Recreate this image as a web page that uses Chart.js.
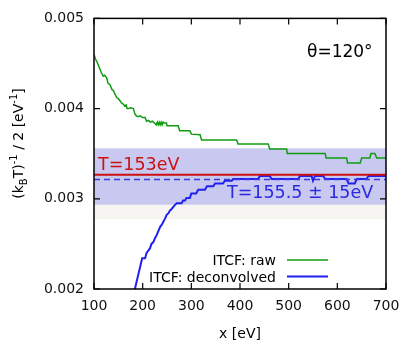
<!DOCTYPE html>
<html lang="en">
<head>
    <meta charset="UTF-8">
    <title>ITCF temperature</title>
    <script src="https://cdn.jsdelivr.net/npm/chart.js"></script>
    <style>
        body { margin: 0; background: #fff; }
        canvas { display: block; }
    </style>
</head>
<body>
    <canvas id="itcfChart" width="414" height="343"></canvas>
    <script>
        // x ticks and y ticks
        const xTicks = [100, 200, 300, 400, 500, 600, 700];
        const yTicks = [0.002, 0.003, 0.004, 0.005];

        // ITCF raw curve (green)
        const rawX = [100, 103, 106, 109, 112, 115, 119, 122, 126, 129, 132, 134, 137, 140, 143, 147, 150, 153, 157, 160,
                      163, 166, 168, 171, 175, 181, 184, 187, 191, 195, 200, 205, 208, 212, 216, 220, 224, 228, 230,
                      232, 234, 236, 238, 240, 242, 244, 249, 250, 273, 276, 297, 300, 318, 321, 393, 396, 458, 461, 496,
                      497, 575, 577, 619, 621, 647, 650, 667, 669, 677, 681, 700];
        const rawY = [0.00460, 0.00455, 0.00452, 0.00448, 0.00444, 0.00440, 0.00436, 0.00437, 0.00434, 0.00428,
                      0.00427, 0.00425, 0.00421, 0.00420, 0.00416, 0.00412, 0.00411, 0.00409, 0.00406, 0.00405,
                      0.00403, 0.00404, 0.00400, 0.00400, 0.00401, 0.00400, 0.00394, 0.00392, 0.00391, 0.00392,
                      0.00390, 0.00390, 0.00386, 0.00387, 0.00385, 0.00386, 0.00384, 0.00382, 0.00385,
                      0.00382, 0.00385, 0.00382, 0.00385, 0.00382, 0.00385, 0.00384, 0.00384, 0.00381, 0.00381,
                      0.003754, 0.003754, 0.003717, 0.00371, 0.003651, 0.003651, 0.003607, 0.003607, 0.003552, 0.003552,
                      0.003503, 0.003503, 0.003453, 0.003453, 0.003397, 0.003397, 0.003453, 0.003453, 0.003503, 0.003503,
                      0.003453, 0.003453];

        // ITCF deconvolved curve (blue)
        const decX = [184, 199, 205, 208, 215, 218, 222, 225, 229, 232, 236, 239, 242, 246, 249, 253, 256, 260, 263, 266,
                      270, 280, 283, 287, 290, 297, 300, 310, 314, 328, 332, 345, 349, 365, 369, 383, 386, 437, 441, 461,
                      465, 520, 523, 547, 550, 554, 571, 575, 619, 623, 636, 640, 660, 664, 700];
        const decY = [0.00200, 0.00234, 0.00234, 0.00240, 0.00245, 0.00250, 0.00252, 0.00256, 0.00260, 0.00264,
                      0.00269, 0.00271, 0.00274, 0.00278, 0.00282, 0.00284, 0.00287, 0.00289, 0.00291, 0.00293,
                      0.00295, 0.00295, 0.00298, 0.00298, 0.00301, 0.00301, 0.00306, 0.00306, 0.00310, 0.00310,
                      0.00314, 0.00314, 0.00317, 0.00317, 0.00320, 0.00320, 0.00322, 0.00322, 0.003254, 0.003254,
                      0.00322, 0.00322, 0.003254, 0.003254, 0.00320, 0.003254, 0.003254, 0.00322, 0.00322, 0.00317,
                      0.00317, 0.00322, 0.00322, 0.003254, 0.003254];

        // reference temperature and fitted temperature (as 1/(2T))
        const refLevel = 0.003268;   // T=153eV
        const fitLevel = 0.003215;   // T=155.5eV
        const fitBand = [0.002935, 0.003559];   // +- 15eV
        const refBand = [0.002773, 0.003559];

        const toPoints = (xs, ys) => xs.map((x, i) => ({ x: x, y: ys[i] }));
        const flat = (v) => [{ x: 100, y: v }, { x: 700, y: v }];

        const FONT = '"DejaVu Sans", sans-serif';

        // shaded bands behind the curves
        const bandPlugin = {
            id: 'bands',
            beforeDatasetsDraw(chart) {
                const { ctx, chartArea: a, scales: { y } } = chart;
                ctx.save();
                ctx.fillStyle = '#f7f5f2';
                let t = y.getPixelForValue(refBand[1]), b = y.getPixelForValue(refBand[0]);
                ctx.fillRect(a.left, t, a.right - a.left, b - t);
                ctx.fillStyle = '#c8c8f0';
                t = y.getPixelForValue(fitBand[1]); b = y.getPixelForValue(fitBand[0]);
                ctx.fillRect(a.left, t, a.right - a.left, b - t);
                ctx.restore();
            }
        };

        // frame, inward ticks, labels, legend, axis titles
        const framePlugin = {
            id: 'frame',
            afterDraw(chart) {
                const { ctx, chartArea: a, scales: { x, y } } = chart;
                ctx.save();
                ctx.strokeStyle = '#000';
                ctx.lineWidth = 1.5;
                ctx.strokeRect(a.left, a.top, a.right - a.left, a.bottom - a.top);
                ctx.lineWidth = 1.2;
                ctx.beginPath();
                xTicks.forEach(v => {
                    const px = x.getPixelForValue(v);
                    ctx.moveTo(px, a.bottom); ctx.lineTo(px, a.bottom - 6);
                    ctx.moveTo(px, a.top); ctx.lineTo(px, a.top + 6);
                });
                yTicks.forEach(v => {
                    const py = y.getPixelForValue(v);
                    ctx.moveTo(a.left, py); ctx.lineTo(a.left + 6, py);
                    ctx.moveTo(a.right, py); ctx.lineTo(a.right - 6, py);
                });
                ctx.stroke();

                // annotations
                ctx.textAlign = 'left';
                ctx.textBaseline = 'alphabetic';
                ctx.font = '17px ' + FONT;
                ctx.fillStyle = '#000';
                ctx.fillText('θ=120°', 307, 56.5);
                ctx.font = '17.5px ' + FONT;
                ctx.fillStyle = '#cc1111';
                ctx.fillText('T=153eV', 98, 170);
                ctx.fillStyle = '#2a2ae0';
                ctx.fillText('T=155.5 ± 15eV', 227, 198);

                // legend
                ctx.font = '14px ' + FONT;
                ctx.fillStyle = '#000';
                ctx.textAlign = 'right';
                ctx.fillText('ITCF: raw', 276, 265);
                ctx.fillText('ITCF: deconvolved', 276, 281.5);
                ctx.lineWidth = 1.5;
                ctx.strokeStyle = '#109c10';
                ctx.beginPath(); ctx.moveTo(287, 260); ctx.lineTo(328, 260); ctx.stroke();
                ctx.lineWidth = 2;
                ctx.strokeStyle = '#2020f0';
                ctx.beginPath(); ctx.moveTo(287, 276.5); ctx.lineTo(328, 276.5); ctx.stroke();

                // x title
                ctx.textAlign = 'center';
                ctx.fillText('x [eV]', (a.left + a.right) / 2, 338);

                // y title with sub/superscripts
                const runs = [['(k', 0], ['B', 1], ['T)', 0], ['-1', -1], [' / 2 [eV', 0], ['-1', -1], [']', 0]];
                const fontFor = k => (k === 0 ? '14px ' : '10px ') + FONT;
                let total = 0;
                runs.forEach(r => { ctx.font = fontFor(r[1]); total += ctx.measureText(r[0]).width; });
                ctx.translate(23, 143.5);
                ctx.rotate(-Math.PI / 2);
                ctx.textAlign = 'left';
                let cx = -total / 2;
                runs.forEach(r => {
                    ctx.font = fontFor(r[1]);
                    const dy = r[1] === 1 ? 3.5 : (r[1] === -1 ? -6 : 0);
                    ctx.fillText(r[0], cx, dy);
                    cx += ctx.measureText(r[0]).width;
                });
                ctx.restore();
            }
        };

        const config = {
            type: 'scatter',
            data: {
                datasets: [
                    {
                        label: 'T=153eV',
                        data: flat(refLevel),
                        showLine: true,
                        borderColor: '#cc1111',
                        borderWidth: 2,
                        pointRadius: 0
                    },
                    {
                        label: 'fit',
                        data: flat(fitLevel),
                        showLine: true,
                        borderColor: '#3a3ae0',
                        borderWidth: 1.5,
                        borderDash: [6, 4],
                        pointRadius: 0
                    },
                    {
                        label: 'ITCF: raw',
                        data: toPoints(rawX, rawY),
                        showLine: true,
                        borderColor: '#109c10',
                        borderWidth: 1.5,
                        pointRadius: 0
                    },
                    {
                        label: 'ITCF: deconvolved',
                        data: toPoints(decX, decY),
                        showLine: true,
                        borderColor: '#2020f0',
                        borderWidth: 2,
                        pointRadius: 0
                    }
                ]
            },
            options: {
                responsive: false,
                devicePixelRatio: 1,
                animation: false,
                layout: { padding: { top: 17, right: 28, left: 0, bottom: 0 } },
                plugins: {
                    legend: { display: false },
                    tooltip: { enabled: false }
                },
                scales: {
                    x: {
                        type: 'linear',
                        min: 100,
                        max: 700,
                        afterBuildTicks: s => { s.ticks = xTicks.map(v => ({ value: v })); },
                        afterFit: s => { s.height = 54; },
                        grid: { display: false, drawTicks: false },
                        border: { display: false },
                        ticks: {
                            padding: 9,
                            color: '#111',
                            font: { family: FONT, size: 14 },
                            maxRotation: 0
                        }
                    },
                    y: {
                        min: 0.002,
                        max: 0.005,
                        afterBuildTicks: s => { s.ticks = yTicks.map(v => ({ value: v })); },
                        afterFit: s => { s.width = 94; },
                        grid: { display: false, drawTicks: false },
                        border: { display: false },
                        ticks: {
                            padding: 10,
                            color: '#111',
                            font: { family: FONT, size: 14 },
                            callback: v => v.toFixed(3)
                        }
                    }
                }
            },
            plugins: [bandPlugin, framePlugin]
        };

        new Chart(document.getElementById('itcfChart'), config);
    </script>
</body>
</html>
